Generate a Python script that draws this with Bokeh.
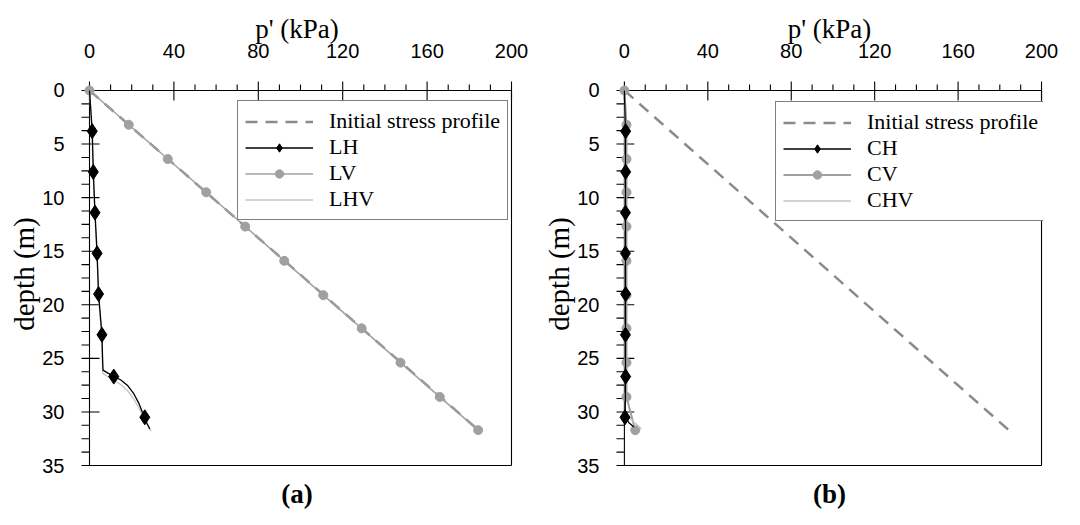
from bokeh.plotting import figure
from bokeh.layouts import row
from bokeh.models import Range1d, FixedTicker, Legend, LegendItem, Title
from bokeh.embed import file_html
from bokeh.resources import INLINE

# ---------------- data ----------------
x_ticks = [0, 40, 80, 120, 160, 200]
x_minor = [10, 20, 30, 50, 60, 70, 90, 100, 110, 130, 140, 150, 170, 180, 190]
y_ticks = [0, 5, 10, 15, 20, 25, 30, 35]
y_minor = [1.25, 2.5, 3.75, 6.25, 7.5, 8.75, 11.25, 12.5, 13.75, 16.25, 17.5, 18.75,
           21.25, 22.5, 23.75, 26.25, 27.5, 28.75, 31.25, 32.5, 33.75]
x_lim = [0, 200]
y_lim = [0, 35]

initial_depth = [0, 31.7]
initial_p = [0, 184.3]

# panel (a)
LH_line_depth = [0, 3.8, 7.6, 11.4, 15.2, 19.0, 22.8, 25.0, 26.1, 26.7, 27.0, 27.5, 28.3, 29.2, 30.0, 30.5, 31.1, 31.6]
LH_line_p = [0, 1.3, 1.8, 2.6, 3.6, 4.3, 5.9, 6.2, 6.4, 11.5, 14.7, 17.9, 21.0, 23.4, 25.0, 26.2, 27.3, 28.6]
LH_mark_depth = [3.8, 7.6, 11.4, 15.2, 19.0, 22.8, 26.7, 30.5]
LH_mark_p = [1.3, 1.8, 2.6, 3.6, 4.3, 5.9, 11.5, 26.2]

LV_depth = [0, 3.2, 6.4, 9.5, 12.7, 15.9, 19.1, 22.2, 25.4, 28.6, 31.7]
LV_p = [0, 18.6, 37.1, 55.3, 73.8, 92.3, 110.8, 129.0, 147.4, 166.0, 184.2]

LHV_depth = [0, 3.8, 7.6, 11.4, 15.2, 19.0, 22.8, 25.0, 26.4, 27.0, 27.4, 28.0, 28.8, 29.7, 30.5, 31.1, 31.8]
LHV_p = [0, 1.2, 1.7, 2.5, 3.5, 4.2, 5.7, 6.0, 6.3, 11.0, 14.5, 18.0, 21.0, 23.6, 25.6, 27.2, 29.2]

# panel (b)
CH_line_depth = [0, 3.8, 7.6, 11.4, 15.2, 19.0, 22.8, 26.7, 30.5, 31.0, 31.4]
CH_line_p = [0, 0.5, 0.5, 0.5, 0.5, 0.5, 0.5, 0.5, 0.4, 2.2, 4.5]
CH_mark_depth = [3.8, 7.6, 11.4, 15.2, 19.0, 22.8, 26.7, 30.5]
CH_mark_p = [0.6, 0.6, 0.5, 0.5, 0.6, 0.5, 0.6, 0.3]

CV_depth = [0, 3.2, 6.4, 9.5, 12.7, 15.9, 19.1, 22.2, 25.4, 28.6, 31.7]
CV_p = [0, 1.0, 1.0, 1.0, 1.0, 1.0, 1.0, 1.0, 1.0, 1.0, 5.2]

CHV_depth = [0, 5.0, 10.0, 15.0, 20.0, 25.0, 30.0, 30.6, 31.1, 31.6]
CHV_p = [0, 0.3, 0.3, 0.3, 0.3, 0.3, 0.4, 2.5, 5.5, 8.2]

# ---------------- style ----------------
SANS = "Liberation Sans"
SERIF = "Liberation Serif"
DASH_COL = "#8a8a8a"
LV_COL = "#a0a0a0"
LHV_COL = "#c4c4c4"

FRAME_W = 422          # px for the 0..200 span
FRAME_H = 376          # px for the 0..35 span
PAD_L, PAD_R, PAD_T, PAD_B = 9, 2, 10, 2   # px of frame kept outside the axes for the ticks


def make_panel(tag, names, lh, lhmark, lv, lhv, width, left):
    sx = FRAME_W / (x_lim[1] - x_lim[0])   # px per kPa
    sy = FRAME_H / (y_lim[1] - y_lim[0])   # px per m
    p = figure(width=width, height=517, output_backend="svg", toolbar_location=None,
               x_range=Range1d(x_lim[0] - PAD_L / sx, x_lim[1] + PAD_R / sx),
               y_range=Range1d(y_lim[1] + PAD_B / sy, y_lim[0] - PAD_T / sy),
               x_axis_location="above",
               min_border_left=left, min_border_right=width - left - (FRAME_W + PAD_L + PAD_R),
               min_border_top=80, min_border_bottom=49)
    p.grid.visible = False
    p.outline_line_color = None
    p.background_fill_color = "white"
    p.border_fill_color = "white"

    xa = p.xaxis[0]
    xa.ticker = FixedTicker(ticks=x_ticks, minor_ticks=[])
    xa.axis_label = "p' (kPa)"
    xa.axis_label_text_font = SERIF
    xa.axis_label_text_font_size = "27px"
    xa.axis_label_text_font_style = "normal"
    xa.axis_label_text_color = "black"
    xa.axis_label_standoff = -3
    xa.major_label_text_font = SANS
    xa.major_label_text_font_size = "20px"
    xa.major_label_text_color = "black"
    xa.major_label_standoff = 23

    ya = p.yaxis[0]
    ya.ticker = FixedTicker(ticks=y_ticks, minor_ticks=[])
    ya.axis_label = "depth (m)"
    ya.axis_label_text_font = SERIF
    ya.axis_label_text_font_size = "29px"
    ya.axis_label_text_font_style = "normal"
    ya.axis_label_text_color = "black"
    ya.axis_label_standoff = -1
    ya.major_label_text_font = SANS
    ya.major_label_text_font_size = "20px"
    ya.major_label_text_color = "black"
    ya.major_label_standoff = 16

    for a in (xa, ya):
        a.axis_line_color = None
        a.major_tick_line_color = None
        a.minor_tick_line_color = None
        a.major_tick_in = 0
        a.major_tick_out = 0
        a.minor_tick_in = 0
        a.minor_tick_out = 0

    # frame box and tick marks (positions from the tick lists)
    x0, x1 = x_lim
    y0, y1 = y_lim
    p.segment([x0, x0, x1, x0], [y0, y0, y0, y1], [x0, x1, x1, x1], [y1, y0, y1, y1],
              line_color="black", line_width=1.1)
    p.segment(x_ticks, [y0 - 9 / sy] * len(x_ticks), x_ticks, [y0 + 10 / sy] * len(x_ticks),
              line_color="black", line_width=1.1)
    p.segment(x_minor, [y0 - 6 / sy] * len(x_minor), x_minor, [y0] * len(x_minor),
              line_color="black", line_width=1.1)
    p.segment([x0 - 8 / sx] * len(y_ticks), y_ticks, [x0 + 10 / sx] * len(y_ticks), y_ticks,
              line_color="black", line_width=1.1)
    p.segment([x0 - 8 / sx] * len(y_minor), y_minor, [x0] * len(y_minor), y_minor,
              line_color="black", line_width=1.1)

    r_init = p.line(initial_p, initial_depth, line_color=DASH_COL, line_width=2.5, line_dash="12 8")

    r_lv_line = p.line(lv[0], lv[1], line_color=LV_COL, line_width=2 if tag == "(b)" else 1.5)
    r_lv_mark = p.scatter(lv[0], lv[1], marker="circle", size=9, fill_color=LV_COL, line_color=LV_COL)

    r_lhv = p.line(lhv[0], lhv[1], line_color=LHV_COL, line_width=1.3)

    r_lh_line = p.line(lh[0], lh[1], line_color="black", line_width=1.3)
    r_lh_mark = p.scatter(lhmark[0], lhmark[1], marker="diamond", size=15, fill_color="black", line_color="black")

    legend = Legend(items=[
        LegendItem(label="Initial stress profile", renderers=[r_init]),
        LegendItem(label=names[0], renderers=[r_lh_line, r_lh_mark]),
        LegendItem(label=names[1], renderers=[r_lv_line, r_lv_mark]),
        LegendItem(label=names[2], renderers=[r_lhv]),
    ])
    legend.location = (157, 247)
    legend.label_text_font = SERIF
    legend.label_text_font_size = "22px"
    legend.label_text_color = "black"
    legend.glyph_width = 68
    legend.glyph_height = 21
    legend.label_height = 21
    legend.label_standoff = 16
    legend.spacing = 0
    legend.padding = 7
    legend.margin = 0
    legend.border_line_color = "black"
    legend.border_line_width = 1
    legend.background_fill_color = "white"
    legend.background_fill_alpha = 1.0
    p.add_layout(legend, "center")

    t = Title(text=tag, align="center", text_font=SERIF, text_font_size="27px",
              text_font_style="bold", text_color="black", standoff=18)
    p.add_layout(t, "below")
    return p


pa = make_panel("(a)", ["LH", "LV", "LHV"], (LH_line_p, LH_line_depth), (LH_mark_p, LH_mark_depth),
                (LV_p, LV_depth), (LHV_p, LHV_depth), 540, 80)
pb = make_panel("(b)", ["CH", "CV", "CHV"], (CH_line_p, CH_line_depth), (CH_mark_p, CH_mark_depth),
                (CV_p, CV_depth), (CHV_p, CHV_depth), 532, 70)
pb.legend[0].location = (160, 246)

layout = row(pa, pb)
open("out.html", "w").write(file_html(layout, INLINE))
